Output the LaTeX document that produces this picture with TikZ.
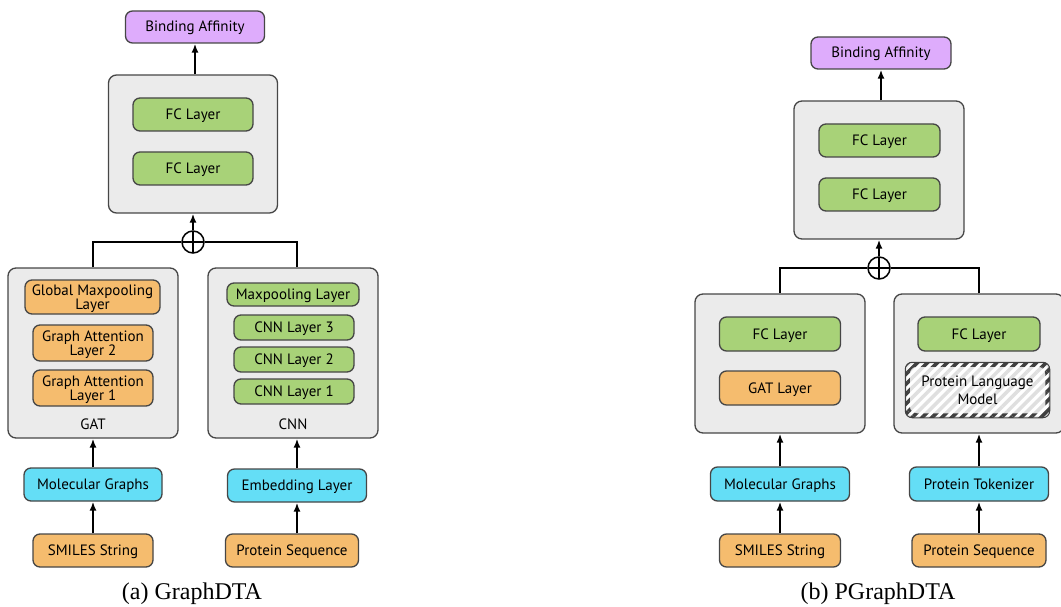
\documentclass[tikz,border=0pt]{standalone}
\usepackage{fontspec}
\setmainfont{Liberation Serif}
\newfontfamily\boxfont{PT Sans}
\usetikzlibrary{positioning}
\usetikzlibrary{arrows.meta}
\usetikzlibrary{patterns.meta}

\definecolor{layerorange}{RGB}{245,188,110}
\definecolor{layergreen}{RGB}{168,210,120}
\definecolor{layercyan}{RGB}{100,222,246}
\definecolor{layerpurple}{RGB}{222,172,252}
\definecolor{blockgray}{RGB}{235,235,235}
\definecolor{edgegray}{RGB}{70,70,70}

\tikzset{
  dims/.style 2 args={minimum width=#1pt, minimum height=#2pt},
  layer/.style={draw=edgegray, line width=1.3pt, rounded corners=7pt, inner sep=1pt,
    align=center, font=\boxfont\fontsize{15}{14}\selectfont},
  oneline/.style={text height=13.5pt, text depth=3.5pt},
  twolines/.style={text height=28.8pt},
  orangebox/.style={layer, fill=layerorange},
  greenbox/.style={layer, fill=layergreen},
  cyanbox/.style={layer, fill=layercyan},
  purplebox/.style={layer, fill=layerpurple},
  plmbox/.style={layer, draw=none, preaction={fill=white},
    font=\boxfont\fontsize{15}{18}\selectfont,
    pattern={Lines[angle=45,distance=7pt,line width=3.5pt]}, pattern color=gray!25},
  block/.style={draw=edgegray, fill=blockgray, line width=1.3pt, rounded corners=8pt},
  tag/.style={font=\boxfont\fontsize{15}{14}\selectfont},
  caption/.style={font=\fontsize{24}{28}\selectfont},
  sumnode/.style={circle, draw, fill=white, line width=1.5pt, minimum size=22pt, inner sep=0pt,
    path picture={\draw[line width=1.5pt] (path picture bounding box.north) -- (path picture bounding box.south)
      (path picture bounding box.west) -- (path picture bounding box.east);}},
  flow/.style={-{Latex[length=9pt,width=7pt]}, line width=1.9pt},
  link/.style={line width=1.9pt},
}

\begin{document}
\begin{tikzpicture}[x=1pt, y=-1pt]
  \useasboundingbox (0,0) rectangle (1061,607);

  % (a) GraphDTA: head
  \node[block, dims={169}{138}] (headA) at (193,144) {};
  \node[greenbox, oneline, dims={120}{33}] (fcA1) at (193,114.5) {FC Layer};
  \node[greenbox, oneline, dims={120}{33}] (fcA2) at (193,168.5) {FC Layer};
  \node[purplebox, oneline, dims={139}{32}] (bindA) at (195,27) {Binding Affinity};
  \node[sumnode] (sumA) at (193,242) {};

  % (a) GraphDTA: drug branch
  \node[block, dims={170}{170}] (gat) at (93,353) {};
  \node[orangebox, twolines, dims={135}{34}] (gmp) at (92.5,297) {Global Maxpooling\\Layer};
  \node[orangebox, twolines, dims={120}{36}] (gatA2) at (93,343) {Graph Attention\\Layer 2};
  \node[orangebox, twolines, dims={120}{36}] (gatA1) at (93,388) {Graph Attention\\Layer 1};
  \node[tag] (gatlabel) at (93,424) {GAT};
  \node[cyanbox, oneline, dims={138}{33}] (molA) at (93,484.5) {Molecular Graphs};
  \node[orangebox, oneline, dims={120}{33}] (smiA) at (93,550.5) {SMILES String};

  % (a) GraphDTA: protein branch
  \node[block, dims={170}{170}] (cnn) at (293,353) {};
  \node[greenbox, oneline, dims={132}{23}] (mpool) at (293,294.5) {Maxpooling Layer};
  \node[greenbox, oneline, dims={120}{25}] (cnn3) at (294,327.5) {CNN Layer 3};
  \node[greenbox, oneline, dims={120}{25}] (cnn2) at (294,359.5) {CNN Layer 2};
  \node[greenbox, oneline, dims={120}{25}] (cnn1) at (294,391.5) {CNN Layer 1};
  \node[tag] (cnnlabel) at (293,424) {CNN};
  \node[cyanbox, oneline, dims={139}{33}] (embed) at (297,485.5) {Embedding Layer};
  \node[orangebox, oneline, dims={133}{33}] (seqA) at (292,550.5) {Protein Sequence};

  \draw[flow] (smiA.north) -- (molA.south);
  \draw[flow] (molA.north) -- (gat.south);
  \draw[flow] (embed.south |- seqA.north) -- (embed.south);
  \draw[flow] (embed.north) -- (embed.north |- cnn.south);
  \draw[link] (gat.north) |- (sumA.west);
  \draw[link] (cnn.north -| embed) |- (sumA.east);
  \draw[flow] (sumA.north) -- (headA.south);
  \draw[flow] (headA.north -| bindA) -- (bindA.south);

  \node[caption] (capA) at (192,594) {(a) GraphDTA};

  % (b) PGraphDTA: head
  \node[block, dims={170}{138}] (headB) at (879,170) {};
  \node[greenbox, oneline, dims={121}{33}] (fcB1) at (879.5,140.5) {FC Layer};
  \node[greenbox, oneline, dims={121}{33}] (fcB2) at (879.5,194.5) {FC Layer};
  \node[purplebox, oneline, dims={140}{32}] (bindB) at (881,53) {Binding Affinity};
  \node[sumnode] (sumB) at (879,268) {};

  % (b) PGraphDTA: drug branch
  \node[block, dims={170}{139}] (drugB) at (780,363.5) {};
  \node[greenbox, oneline, dims={121}{34}] (fcB3) at (780,334) {FC Layer};
  \node[orangebox, oneline, dims={121}{34}] (gatB) at (780,388) {GAT Layer};
  \node[cyanbox, oneline, dims={139}{34}] (molB) at (780,484) {Molecular Graphs};
  \node[orangebox, oneline, dims={121}{33}] (smiB) at (780,550.5) {SMILES String};

  % (b) PGraphDTA: protein branch
  \node[block, dims={170}{139}] (protB) at (979,363.5) {};
  \node[greenbox, oneline, dims={122}{34}] (fcB4) at (979,334) {FC Layer};
  \node[plmbox, dims={141}{52}] (plm) at (977.5,390) {Protein Language\\Model};
  % striped rim of the language model
  \path[pattern={Lines[angle=45,distance=7pt,line width=3.6pt]}, pattern color=black!75,
    even odd rule, rounded corners=7pt]
    (plm.south west) rectangle (plm.north east)
    ([shift={(4.5pt,4.5pt)}]plm.south west) rectangle ([shift={(-4.5pt,-4.5pt)}]plm.north east);
  \draw[black!75, line width=1pt, rounded corners=7pt] (plm.south west) rectangle (plm.north east);
  \node[cyanbox, oneline, dims={139}{34}] (tok) at (979,484) {Protein Tokenizer};
  \node[orangebox, oneline, dims={134}{33}] (seqB) at (979,550.5) {Protein Sequence};

  \draw[flow] (smiB.north) -- (molB.south);
  \draw[flow] (molB.north) -- (drugB.south);
  \draw[flow] (seqB.north) -- (tok.south);
  \draw[flow] (tok.north) -- (protB.south);
  \draw[link] (drugB.north) |- (sumB.west);
  \draw[link] (protB.north) |- (sumB.east);
  \draw[flow] (sumB.north) -- (headB.south);
  \draw[flow] (headB.north -| bindB) -- (bindB.south);

  \node[caption] (capB) at (878,594) {(b) PGraphDTA};
\end{tikzpicture}
\end{document}
